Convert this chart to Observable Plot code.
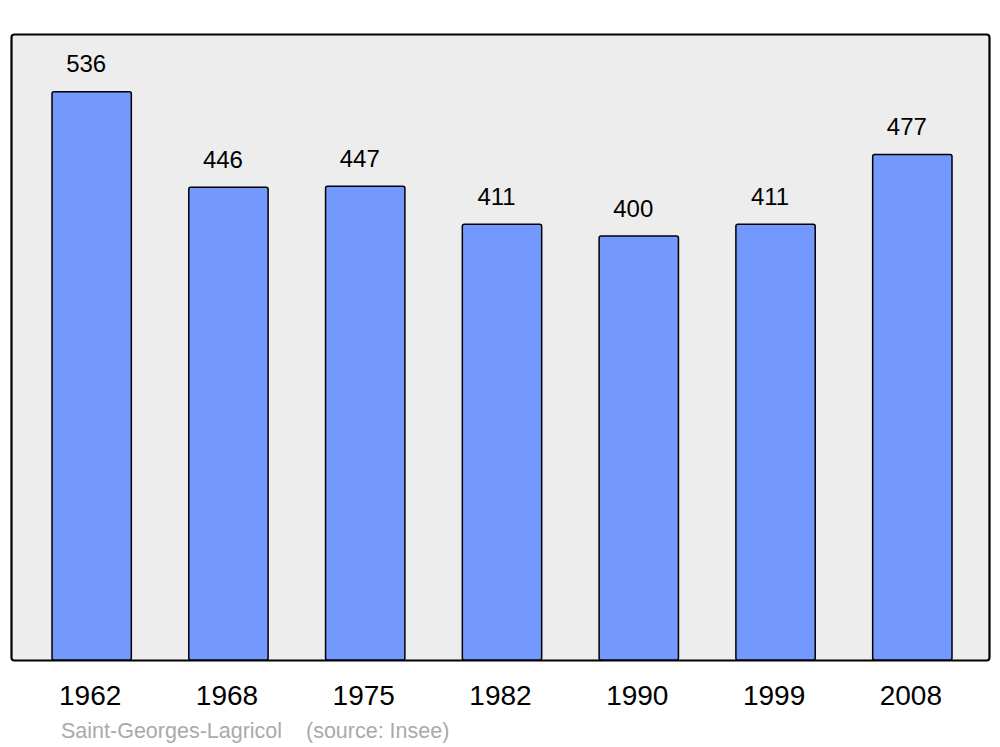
<!DOCTYPE html>
<html>
<head>
<meta charset="utf-8">
<script src="https://cdn.jsdelivr.net/npm/d3@7"></script>
<script src="https://cdn.jsdelivr.net/npm/@observablehq/plot@0.6"></script>
<style>
  html, body { margin: 0; padding: 0; background: #fff; }
  #chart svg { display: block; }
  #caption { font-family: "Liberation Sans", Arial, sans-serif; font-size: 21.5px; color: #aaaaaa; margin-left: 61px; padding-top: 2px; height: 33px; line-height: 35px; white-space: pre; }
</style>
</head>
<body>
<div id="chart"></div>
<div id="caption"></div>
<script>
const years = ["1962", "1968", "1975", "1982", "1990", "1999", "2008"];
const population = [536, 446, 447, 411, 400, 411, 477];
const commune = "Saint-Georges-Lagricol";
const source = "(source: Insee)";

const data = years.map((year, i) => ({year, value: population[i]}));

const chart = Plot.plot({
  width: 1000,
  height: 712,
  marginLeft: 11,
  marginRight: 11,
  marginTop: 34,
  marginBottom: 52,
  style: {fontFamily: "'Liberation Sans', Arial, sans-serif", color: "#000", background: "#fff", overflow: "visible"},
  x: {domain: years, range: [52, 952], paddingInner: 0.42, paddingOuter: 0, round: false, label: null},
  y: {domain: [0, 590.6], axis: null},
  marks: [
    Plot.frame({fill: "#ededed", stroke: "#000", strokeWidth: 2.2, rx: 3}),
    Plot.barY(data, {x: "year", y: "value", fill: "#7399ff", stroke: "#000", strokeWidth: 1.5, rx: 2}),
    Plot.text(data, {x: "year", y: "value", text: d => String(d.value), dx: -6, dy: -20, lineAnchor: "bottom", fontSize: 24, fill: "#000"}),
    Plot.axisX({tickSize: 0, tickPadding: 25, dx: -2, fontSize: 28, fill: "#000", label: null})
  ]
});
document.getElementById("chart").appendChild(chart);
document.getElementById("caption").textContent = commune + "    " + source;
</script>
</body>
</html>
